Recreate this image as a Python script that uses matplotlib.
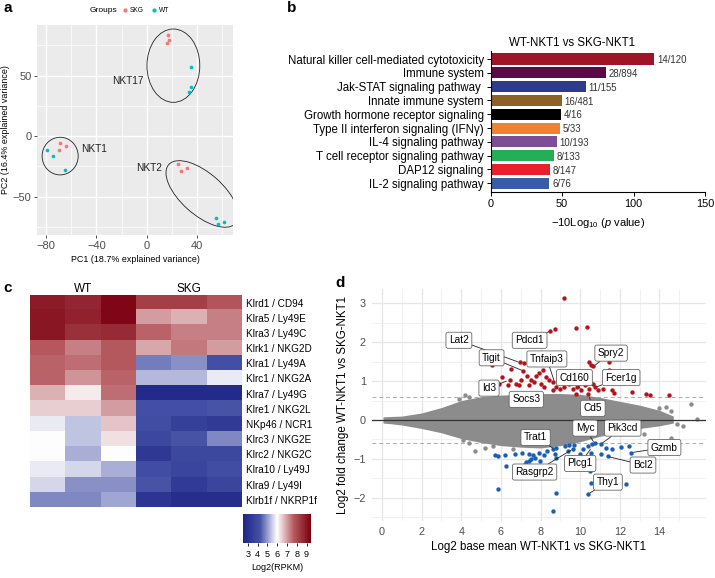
import matplotlib
matplotlib.use("Agg")
import matplotlib.pyplot as plt
import numpy as np
from matplotlib.patches import Ellipse
from matplotlib.lines import Line2D
from matplotlib.colors import LinearSegmentedColormap, TwoSlopeNorm

plt.rcParams["font.family"] = ["Liberation Sans", "DejaVu Sans"]
plt.rcParams["mathtext.fontset"] = "custom"
plt.rcParams["mathtext.rm"] = "Liberation Sans"
plt.rcParams["mathtext.it"] = "Liberation Sans:italic"

# ---- panel a: PCA ----
GROUPS = ["SKG", "WT"]
GROUP_COLORS = ["#F8766D", "#00BFC4"]
PCA_SKG_X = [16.6, 18.0, 16.4, -68.6, -64.1, -69.6, 25.1, 27.0, 32.0]
PCA_SKG_Y = [83.6, 79.5, 77.3, -5.9, -8.1, -11.4, -23.0, -28.8, -26.3]
PCA_WT_X = [35.2, 35.0, 33.6, -79.2, -74.2, -64.6, 55.4, 56.5, 61.8]
PCA_WT_Y = [56.9, 40.4, 36.2, -11.7, -16.1, -27.7, -67.4, -72.9, -70.9]
CLUSTERS = ["NKT17", "NKT1", "NKT2"]
CLUSTER_CENTER = [(21.2, 58.3), (-68.8, -16.4), (44.1, -47.7)]
CLUSTER_SIZE = [(42, 60.6), (28.7, 31.1), (72, 34)]
CLUSTER_ANGLE = [0, 0, -43]
CLUSTER_LABEL_XY = [(-15, 45.9), (-41.8, -10.6), (2.0, -26.6)]

# ---- panel b: pathways ----
PATHWAYS = [
    "Natural killer cell-mediated cytotoxicity",
    "Immune system",
    "Jak-STAT signaling pathway ",
    "Innate immune system",
    "Growth hormone receptor signaling",
    "Type II interferon signaling (IFN\u03b3)",
    "IL-4 signaling pathway",
    "T cell receptor signaling pathway",
    "DAP12 signaling",
    "IL-2 signaling pathway",
]
PATH_SCORE = [114.5, 80.7, 66.5, 49.7, 49.0, 48.5, 46.2, 44.3, 41.5, 41.1]
PATH_COUNTS = ["14/120", "28/894", "11/155", "16/481", "4/16", "5/33",
               "10/193", "8/133", "8/147", "6/76"]
PATH_COLORS = ["#A01525", "#5A0A45", "#2E3A8C", "#8D6128", "#000000",
               "#EE8333", "#7D4E97", "#24AE55", "#E6212E", "#3A5BA6"]

# ---- panel c: heatmap ----
GENES = ["Klrd1 / CD94", "Klra5 / Ly49E", "Klra3 / Ly49C", "Klrk1 / NKG2D",
         "Klra1 / Ly49A", "Klrc1 / NKG2A", "Klra7 / Ly49G", "Klre1 / NKG2L",
         "NKp46 / NCR1", "Klrc3 / NKG2E", "Klrc2 / NKG2C", "Klra10 / Ly49J",
         "Klra9 / Ly49I", "Klrb1f / NKRP1f"]
SAMPLE_GROUPS = ["WT", "SKG"]
EXPR = [
    [8.9, 8.7, 9.3, 8.2, 8.2, 7.8],
    [9.0, 8.8, 9.3, 7.0, 6.8, 7.3],
    [9.0, 8.5, 8.6, 7.6, 7.3, 7.3],
    [7.7, 7.3, 7.7, 6.9, 7.4, 7.0],
    [7.6, 7.5, 7.7, 4.7, 4.9, 4.2],
    [7.6, 7.1, 7.6, 5.3, 5.3, 5.8],
    [6.8, 6.2, 7.5, 2.8, 2.8, 2.8],
    [6.5, 6.5, 7.0, 4.2, 4.2, 4.3],
    [5.8, 5.4, 6.6, 4.1, 3.6, 3.4],
    [6.0, 5.4, 6.3, 3.9, 4.3, 4.8],
    [6.0, 5.2, 6.0, 3.3, 3.9, 3.9],
    [5.8, 5.6, 5.2, 4.1, 3.8, 4.1],
    [5.6, 4.9, 4.9, 4.3, 3.4, 3.8],
    [4.8, 4.8, 5.1, 3.2, 2.9, 2.9],
]

# ---- panel d: MA plot ----
CLOUD_X = [0.05, 0.5, 1, 2, 3, 4, 5, 6, 7, 8, 9, 10, 11, 12, 13, 14, 14.7]
CLOUD_HI = [0.08, 0.09, 0.10, 0.18, 0.32, 0.50, 0.60, 0.64, 0.66, 0.68, 0.68,
            0.66, 0.58, 0.48, 0.38, 0.25, 0.10]
CLOUD_LO = [-0.08, -0.10, -0.13, -0.22, -0.33, -0.48, -0.58, -0.66, -0.70,
            -0.72, -0.66, -0.56, -0.42, -0.33, -0.22, -0.15, -0.08]
GRAY_X = [4.2, 4.4, 3.9, 5.2, 4.68, 5.19, 4.07, 4.41, 15.59, 14.33, 14.58,
          15.92, 14.9, 15.2, 14.6, 13.2, 14.0, 6.6, 5.6]
GRAY_Y = [0.65, 0.58, 0.55, 0.70, -0.79, -0.71, -0.51, -0.60, 0.42, 0.33,
          0.23, 0.03, -0.10, -0.15, -0.46, -0.35, 0.30, -0.76, -0.66]
UP_X = [9.16, 8.50, 8.71, 9.80, 10.32, 5.53, 6.94, 7.18, 6.49, 7.14, 7.82,
        8.12, 6.07, 6.45, 5.61, 6.35, 6.76, 6.91, 7.40, 7.65, 7.78, 7.92,
        8.12, 8.29, 8.45, 8.62, 8.00, 8.20, 8.76, 8.96, 9.16, 9.46, 9.63,
        9.83, 10.05, 10.22, 9.97, 10.44, 10.55, 10.67, 11.45, 11.48, 10.64,
        10.77, 10.89, 11.14, 10.47, 10.39, 11.61, 11.73, 12.62, 13.33, 13.53,
        14.47, 7.33, 7.53, 7.03, 5.90, 8.96, 9.29, 9.63, 8.62, 9.80]
UP_Y = [3.13, 2.29, 2.34, 2.37, 2.40, 1.41, 1.48, 1.47, 1.31, 1.26, 1.48,
        1.51, 1.10, 1.04, 0.97, 0.89, 0.93, 0.91, 0.90, 0.97, 1.12, 1.21,
        1.28, 1.10, 1.02, 0.97, 0.93, 0.84, 0.86, 0.80, 0.86, 0.93, 0.80,
        0.86, 0.76, 0.89, 1.02, 1.49, 1.41, 1.38, 1.49, 1.28, 0.93, 0.84,
        0.76, 0.80, 0.80, 0.67, 0.78, 0.69, 0.72, 0.67, 0.63, 0.63, 1.14,
        1.02, 1.02, 0.93, 1.02, 1.06, 1.10, 0.76, 0.67]
DOWN_X = [5.70, 5.85, 6.20, 6.24, 6.69, 7.08, 7.41, 7.61, 7.90, 8.15, 8.35,
          8.62, 8.79, 8.71, 8.76, 7.41, 7.53, 7.70, 7.19, 7.28, 7.98, 5.85,
          8.76, 8.64, 9.24, 9.46, 9.71, 9.63, 9.39, 9.97, 10.13, 10.39, 10.61,
          10.74, 11.06, 11.31, 11.61, 12.07, 12.45, 12.59, 11.39, 10.55,
          10.50, 10.55, 10.42, 12.29, 11.06]
DOWN_Y = [-0.91, -0.92, -0.90, -1.19, -0.88, -0.86, -0.88, -0.90, -0.85,
          -0.90, -0.79, -0.75, -0.71, -0.88, -0.97, -1.05, -1.01, -0.97,
          -1.16, -1.09, -1.05, -1.77, -1.88, -2.35, -0.66, -0.65, -0.64,
          -0.75, -0.79, -0.88, -0.75, -0.66, -0.62, -0.60, -0.62, -0.71,
          -0.75, -0.69, -0.66, -0.84, -0.94, -0.84, -1.31, -1.61, -1.90,
          -1.66, -0.88]
GENE_LABELS = ["Lat2", "Pdcd1", "Tigit", "Tnfaip3", "Spry2", "Cd160", "Fcer1g",
               "Id3", "Socs3", "Cd5", "Myc", "Pik3cd", "Trat1", "Gzmb", "Plcg1",
               "Bcl2", "Rasgrp2", "Thy1"]
LABEL_POINT = [(6.94, 1.48), (8.50, 2.29), (7.14, 1.26), (8.71, 0.97),
               (10.67, 1.38), (10.05, 0.76), (10.77, 0.84), (6.37, 1.02),
               (7.78, 0.72), (10.44, 0.63), (10.72, -0.60), (11.05, -0.62),
               (8.71, -0.75), (12.59, -0.84), (10.58, -0.71), (11.39, -0.94),
               (9.63, -0.75), (10.42, -1.90)]
LABEL_BOX = [(3.88, 2.05), (7.45, 2.05), (5.53, 1.60), (8.32, 1.57),
             (11.56, 1.72), (9.71, 1.09), (12.07, 1.09), (5.40, 0.82),
             (7.28, 0.53), (10.64, 0.30), (10.25, -0.21), (12.15, -0.21),
             (7.75, -0.45), (14.25, -0.71), (10.0, -1.12), (13.17, -1.16),
             (7.70, -1.34), (11.40, -1.60)]

W, H = 715, 578
fig = plt.figure(figsize=(W / 100, H / 100), dpi=100)


def rect(left, top, right, bottom):
    return [left / W, 1 - bottom / H, (right - left) / W, (bottom - top) / H]


# ---------------- panel a ----------------
ax = fig.add_axes(rect(37, 25, 233, 235))
ax.set_facecolor("#EBEBEB")
for s in ax.spines.values():
    s.set_visible(False)
ax.set_xlim(-87.2, 68.6)
ax.set_ylim(-81.6, 91.9)
ax.set_xticks([-80, -40, 0, 40])
ax.set_yticks([-50, 0, 50])
ax.set_xticks([-60, -20, 20, 60], minor=True)
ax.set_yticks([-75, -25, 25, 75], minor=True)
ax.grid(True, which="major", color="white", lw=1.0)
ax.grid(True, which="minor", color="white", lw=0.5)
ax.set_axisbelow(True)
ax.tick_params(which="major", length=2.5, width=0.6, color="#333333",
               labelsize=8, labelcolor="#4D4D4D", pad=1.5)
ax.tick_params(which="minor", length=0)
ax.set_xticklabels(["\u221280", "\u221240", "0", "40"])
ax.set_yticklabels(["\u221250", "0", "50"])
ax.set_xlabel("PC1 (18.7% explained variance)", fontsize=6.4, labelpad=3)
ax.set_ylabel("PC2 (16.4% explained variance)", fontsize=6.4, labelpad=2)

for name, (cx, cy), (ew, eh), ang, (lx, ly) in zip(
        CLUSTERS, CLUSTER_CENTER, CLUSTER_SIZE, CLUSTER_ANGLE, CLUSTER_LABEL_XY):
    ax.add_patch(Ellipse((cx, cy), ew, eh, angle=ang, fill=False,
                         ec="#222222", lw=0.6))
    ax.text(lx, ly, name, fontsize=7.3, ha="center", va="center", color="#222222")

ax.scatter(PCA_SKG_X, PCA_SKG_Y, s=7, color=GROUP_COLORS[0], lw=0, zorder=3)
ax.scatter(PCA_WT_X, PCA_WT_Y, s=7, color=GROUP_COLORS[1], lw=0, zorder=3)

# legend on top
fig.text(90 / W, 1 - 10 / H, "Groups", fontsize=6, va="center", ha="left")
leg_x = [125, 154]
for gx, g, c in zip(leg_x, GROUPS, GROUP_COLORS):
    fig.add_artist(Line2D([gx / W], [1 - 9.5 / H], marker="o", ms=2, color=c,
                          lw=0, transform=fig.transFigure))
    fig.text((gx + 5) / W, 1 - 10 / H, g, fontsize=4.8, va="center", ha="left")

# ---------------- panel b ----------------
ax = fig.add_axes(rect(490.7, 51, 705, 191.7))
yb = np.arange(len(PATHWAYS))
ax.barh(yb, PATH_SCORE, height=0.8, color=PATH_COLORS)
ax.set_ylim(9.61, -0.58)
ax.set_xlim(0, 150)
ax.set_yticks(yb)
ax.set_yticklabels(PATHWAYS, fontsize=8.3)
ax.set_xticks([0, 50, 100, 150])
ax.tick_params(axis="x", labelsize=7.8, length=3, width=0.7, pad=2)
ax.tick_params(axis="y", length=3, width=0.7, pad=2)
for side in ("top", "right"):
    ax.spines[side].set_visible(False)
for side in ("left", "bottom"):
    ax.spines[side].set_linewidth(0.8)
for yy, v, c in zip(yb, PATH_SCORE, PATH_COUNTS):
    ax.text(v + 2, yy + 0.08, c, fontsize=6.9, va="center", ha="left",
            color="#333333")
ax.text(57, -0.75, "WT-NKT1 vs SKG-NKT1", fontsize=8.3, ha="center",
        va="bottom")
ax.set_xlabel(r"$-$10Log$_{10}$ ($\mathit{p}$ value)", fontsize=8, labelpad=5)

# ---------------- panel c ----------------
ax = fig.add_axes(rect(30, 295, 241.7, 507.3))
cmap = LinearSegmentedColormap.from_list(
    "bwr_hm", [(0.0, "#1E2586"), (0.25, "#4451A5"), (0.5, "#FFFFFF"),
               (0.75, "#B5585E"), (1.0, "#7A0010")])
norm = TwoSlopeNorm(vmin=2.5, vcenter=6.0, vmax=9.45)
im = ax.imshow(np.array(EXPR), cmap=cmap, norm=norm, aspect="auto",
               interpolation="nearest")
for s in ax.spines.values():
    s.set_visible(False)
ax.set_xticks([])
ax.yaxis.tick_right()
ax.set_yticks(range(len(GENES)))
ax.set_yticklabels(GENES, fontsize=7.2)
ax.tick_params(axis="y", length=0, pad=3)
ax.text(1, -0.5, SAMPLE_GROUPS[0], fontsize=8.5, ha="center", va="bottom")
ax.text(4, -0.5, SAMPLE_GROUPS[1], fontsize=8.5, ha="center", va="bottom")

cax = fig.add_axes(rect(243, 514, 311, 543))
cb = fig.colorbar(im, cax=cax, orientation="horizontal")
cb.outline.set_visible(False)
cb.set_ticks([3, 4, 5, 6, 7, 8, 9])
cb.ax.tick_params(labelsize=6.5, length=2, width=0.6, pad=3)
cb.ax.minorticks_off()
cb.set_label("Log2(RPKM)", fontsize=6.5, labelpad=3)

# ---------------- panel d ----------------
ax = fig.add_axes(rect(371.5, 289, 706, 521))
for s in ax.spines.values():
    s.set_visible(False)
ax.set_xlim(-0.53, 16.35)
ax.set_ylim(-2.6, 3.37)
ax.set_xticks(range(0, 15, 2))
ax.set_xticks(range(1, 17, 2), minor=True)
ax.set_yticks(range(-2, 4))
ax.set_yticks(np.arange(-2.5, 3.0, 1.0), minor=True)
ax.set_yticklabels(["\u22122", "\u22121", "0", "1", "2", "3"])
ax.grid(True, which="major", color="#E6E6E6", lw=0.9)
ax.grid(True, which="minor", color="#EFEFEF", lw=0.6)
ax.set_axisbelow(True)
ax.tick_params(which="both", length=0, labelsize=7.8, labelcolor="#4D4D4D",
               pad=4)
ax.axhline(0.585, color="#AAAAAA", lw=0.7, ls=(0, (4, 3)), zorder=1)
ax.axhline(-0.585, color="#AAAAAA", lw=0.7, ls=(0, (4, 3)), zorder=1)
ax.fill_between(CLOUD_X, CLOUD_LO, CLOUD_HI, color="#8C8C8C", lw=0, zorder=2)
ax.scatter(GRAY_X, GRAY_Y, s=10, color="#8C8C8C", lw=0, zorder=2)
ax.axhline(0, color="#333333", lw=0.9, zorder=3)
ax.scatter(UP_X, UP_Y, s=10, color="#B5121B", lw=0, zorder=4)
ax.scatter(DOWN_X, DOWN_Y, s=10, color="#1A5FB4", lw=0, zorder=4)
for lab, pt, box in zip(GENE_LABELS, LABEL_POINT, LABEL_BOX):
    ax.annotate(lab, xy=pt, xytext=box, fontsize=7.3, ha="center",
                va="center", zorder=5,
                bbox=dict(boxstyle="round,pad=0.3,rounding_size=0.2",
                          fc="white", ec="#666666", lw=0.6),
                arrowprops=dict(arrowstyle="-", color="#222222", lw=0.6,
                                shrinkA=0, shrinkB=1.5))
ax.set_xlabel("Log2 base mean WT-NKT1 vs SKG-NKT1", fontsize=8.3, labelpad=3)
ax.set_ylabel("Log2 fold change WT-NKT1 vs SKG-NKT1", fontsize=8.3,
              labelpad=3)

# panel letters
for letter, (px, py) in zip("abcd", [(3, 8), (287, 8), (3, 288), (335, 283)]):
    fig.text(px / W, 1 - py / H, letter, fontsize=11, fontweight="bold",
             ha="left", va="center")

fig.savefig("out.png", dpi=100)
